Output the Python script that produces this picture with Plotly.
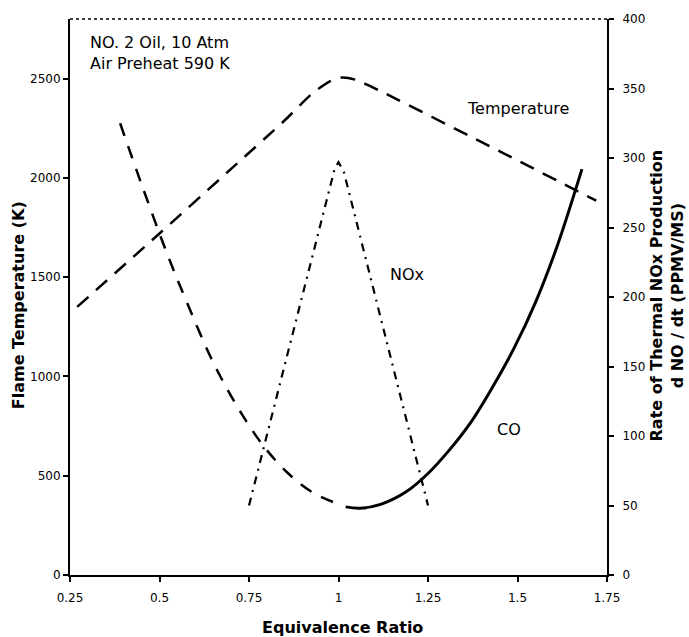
import plotly.graph_objects as go

# ---- data ----
temp_phi = [0.27, 0.50, 0.70, 0.85, 0.93, 0.98, 1.01, 1.05, 1.10, 1.40, 1.72]
temp_K = [1350, 1720, 2045, 2290, 2430, 2490, 2505, 2493, 2452, 2180, 1885]

co_lean_phi = [0.39, 0.45, 0.52, 0.58, 0.65, 0.72, 0.79, 0.86, 0.93, 1.00]
co_lean_val = [325, 281, 232, 194, 153, 120, 93, 73, 59, 51]

co_rich_phi = [1.02, 1.06, 1.12, 1.19, 1.25, 1.31, 1.37, 1.43, 1.49, 1.55, 1.61, 1.68]
co_rich_val = [49, 48, 51, 60, 73, 90, 110, 135, 163, 196, 236, 292]

nox_phi = [0.75, 0.99, 1.0, 1.015, 1.25]
nox_rate = [50, 293, 297, 290, 50]

x_ticks = [0.25, 0.5, 0.75, 1.0, 1.25, 1.5, 1.75]
x_ticktext = ["0.25", "0.5", "0.75", "1", "1.25", "1.5", "1.75"]
yl_ticks = [0, 500, 1000, 1500, 2000, 2500]
yr_ticks = [0, 50, 100, 150, 200, 250, 300, 350, 400]

FONT = "DejaVu Sans"
TICKFONT = dict(family=FONT, size=12, color="black")

fig = go.Figure()
fig.add_trace(go.Scatter(x=temp_phi, y=temp_K, mode="lines", line=dict(color="black", width=2.5, dash="15px,10px", shape="spline", smoothing=0.7), name="Temperature", showlegend=False))
fig.add_trace(go.Scatter(x=co_lean_phi, y=co_lean_val, mode="lines", yaxis="y2", line=dict(color="black", width=2.5, dash="13px,11px", shape="spline", smoothing=1.0), name="CO", showlegend=False))
fig.add_trace(go.Scatter(x=co_rich_phi, y=co_rich_val, mode="lines", yaxis="y2", line=dict(color="black", width=3, shape="spline", smoothing=1.0), name="CO", showlegend=False))
fig.add_trace(go.Scatter(x=nox_phi, y=nox_rate, mode="lines", yaxis="y2", line=dict(color="black", width=2.2, dash="8px,6px,2px,6px"), name="NOx", showlegend=False))

axis_common = dict(showgrid=False, zeroline=False, showline=True, linecolor="black", linewidth=2,
                   ticks="outside", ticklen=5, tickwidth=2, tickcolor="black", tickfont=TICKFONT)

fig.update_layout(
    width=689, height=637,
    margin=dict(l=70, r=82, t=15, b=62),
    paper_bgcolor="white", plot_bgcolor="white",
    showlegend=False,
    xaxis=dict(range=[0.25, 1.75], tickvals=x_ticks, ticktext=x_ticktext, ticklabelstandoff=6, **axis_common),
    yaxis=dict(range=[0, 2800], tickvals=yl_ticks, **axis_common),
    yaxis2=dict(range=[0, 400], tickvals=yr_ticks, overlaying="y", side="right", ticklabelstandoff=6, **axis_common),
    xaxis2=dict(range=[0.25, 1.75], tickvals=x_ticks, overlaying="x", anchor="y", side="bottom", showticklabels=False,
                showgrid=False, zeroline=False, showline=False, ticks="inside", ticklen=5, tickwidth=2, tickcolor="black"),
    yaxis3=dict(range=[0, 2800], tickvals=yl_ticks, overlaying="y", anchor="x", side="left", showticklabels=False,
                showgrid=False, zeroline=False, showline=False, ticks="inside", ticklen=5, tickwidth=2, tickcolor="black"),
    yaxis4=dict(range=[0, 400], tickvals=yr_ticks, overlaying="y", anchor="x", side="right", showticklabels=False,
                showgrid=False, zeroline=False, showline=False, ticks="inside", ticklen=5, tickwidth=2, tickcolor="black"),
)

# dotted top border
fig.add_shape(type="line", xref="paper", yref="paper", x0=0, x1=1, y0=1, y1=1,
              line=dict(color="black", width=1.5, dash="dot"))

ann_font = dict(family=FONT, size=16, color="black")
title_font = dict(family=FONT, size=16, color="black", weight="bold")
fig.add_annotation(x=0.30, y=2740, xref="x", yref="y", text="NO. 2 Oil, 10 Atm<br>Air Preheat 590 K",
                   showarrow=False, xanchor="left", yanchor="top", align="left", font=ann_font)
fig.add_annotation(x=1.50, y=2350, xref="x", yref="y", text="Temperature", showarrow=False, font=ann_font)
fig.add_annotation(x=1.192, y=1515, xref="x", yref="y", text="NOx", showarrow=False, font=ann_font)
fig.add_annotation(x=1.475, y=735, xref="x", yref="y", text="CO", showarrow=False, font=ann_font)

# axis titles
fig.add_annotation(x=0.508, y=-0.095, xref="paper", yref="paper", text="Equivalence Ratio",
                   showarrow=False, font=title_font, xanchor="center", yanchor="middle")
fig.add_annotation(x=-0.097, y=0.485, xref="paper", yref="paper", text="Flame Temperature (K)",
                   showarrow=False, font=title_font, textangle=-90, xanchor="center", yanchor="middle")
fig.add_annotation(x=1.112, y=0.503, xref="paper", yref="paper",
                   text="Rate of Thermal NOx Production<br>d NO / dt (PPMV/MS)",
                   showarrow=False, font=title_font, textangle=-90, xanchor="center", yanchor="middle")

fig.write_html("out.html")
